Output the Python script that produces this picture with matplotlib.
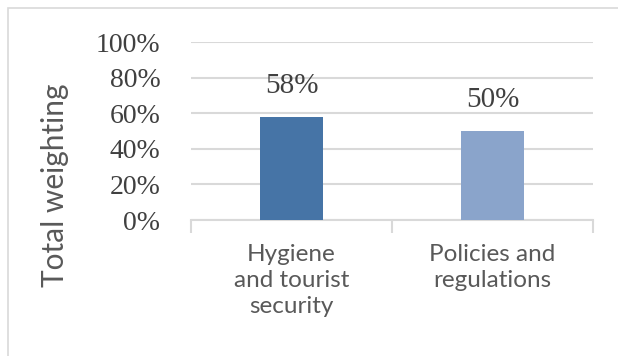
import matplotlib.pyplot as plt
from matplotlib.patches import Rectangle

categories = ['Hygiene\nand tourist\nsecurity', 'Policies and\nregulations']
weights = [58, 50]
value_labels = ['58%', '50%']
bar_colors = ['#4674a6', '#8aa4cb']
yticks = [0, 20, 40, 60, 80, 100]

fig = plt.figure(figsize=(6.18, 3.56), dpi=100)
ax = fig.add_axes([0.309, 0.382, 0.6505, 0.50])

# outer chart border
fig.patches.append(Rectangle((8 / 618, -0.1), 1.2, 1 - 8 / 356 + 0.1,
                             transform=fig.transFigure, fill=False,
                             edgecolor='#d9d9d9', linewidth=1.2))

x = range(len(categories))
ax.bar(x, weights, width=0.31, color=bar_colors, zorder=3)
for i, (v, lab) in enumerate(zip(weights, value_labels)):
    ax.text(i, v + 10, lab, ha='center', va='bottom', fontsize=21,
            family='Liberation Serif', color='#404040')

ax.set_xlim(-0.5, 1.5)
ax.set_ylim(0, 100)
ax.set_yticks(yticks)
ax.set_yticklabels([f'{t}%' for t in yticks], family='Liberation Serif',
                   fontsize=20, color='#404040')
ax.yaxis.grid(True, color='#d9d9d9', linewidth=1.5, zorder=0)
ax.tick_params(axis='y', length=0, pad=22)

ax.set_xticks([-0.5, 0.5, 1.5])
ax.set_xticklabels([])
ax.set_xticks([0, 1], minor=True)
ax.set_xticklabels(categories, minor=True, family='Lato', fontsize=17.5,
                   color='#595959', linespacing=1.3)
ax.tick_params(axis='x', which='major', length=9, color='#d9d9d9', width=1.5)
ax.tick_params(axis='x', which='minor', length=0, pad=17)

for s in ['top', 'right', 'left']:
    ax.spines[s].set_visible(False)
ax.spines['bottom'].set_color('#d9d9d9')
ax.spines['bottom'].set_linewidth(1.5)

fig.text(0.089, 0.48, 'Total weighting', rotation=90, ha='center', va='center',
         family='Lato', fontsize=21.5, color='#595959')

fig.savefig('out.png', dpi=100)
